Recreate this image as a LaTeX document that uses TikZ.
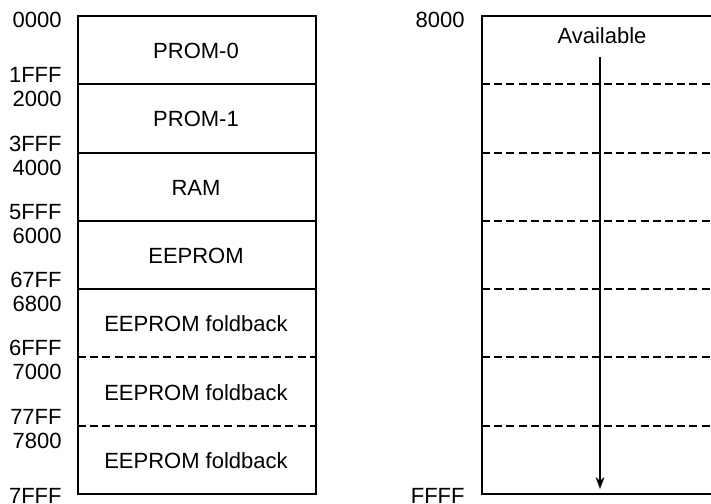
\documentclass[tikz,border=0pt]{standalone}
\usepackage{fontspec}
\setmainfont{Liberation Sans}
\usetikzlibrary{arrows.meta}
\begin{document}
\begin{tikzpicture}[>={Stealth[length=6pt,width=4.4pt]}, x=0.5pt, y=-0.5pt,
  addr/.style={anchor=east, inner sep=0pt},
  sect/.style={inner sep=0pt},
  edge/.style={line width=1pt},
  fold/.style={line width=1pt, dash pattern=on 4pt off 2.1pt}]
 \useasboundingbox (0,0) rectangle (711,503);
 \fontsize{11}{13}\selectfont
 % left map
 \draw[edge] (78,16) rectangle (316,494);
 \foreach \y in {84.3,152.6,220.9,289.1}
  \draw[edge] (78,\y) -- (316,\y);
 \foreach \y in {357.4,425.7}
  \draw[fold] (78,\y) -- (316,\y);
 \foreach \y/\name/\txt in {51/prom0/PROM-0, 119/prom1/PROM-1, 187.5/ram/RAM,
   256/eeprom/EEPROM, 324/foldA/EEPROM foldback, 392.5/foldB/EEPROM foldback,
   461/foldC/EEPROM foldback}
  \node[sect] (\name) at (196,\y) {\txt};
 \node[addr] (a0000) at (62,20) {0000};
 \foreach \y/\ea/\sa [count=\i] in {84.3/1FFF/2000, 152.6/3FFF/4000, 220.9/5FFF/6000,
   289.1/67FF/6800, 357.4/6FFF/7000, 425.7/77FF/7800} {
  \node[addr] (end\i) at (62,\y-9) {\ea};
  \node[addr] (start\i) at (62,\y+15) {\sa};
 }
 \node[addr] (a7FFF) at (62,496) {7FFF};
 % right map
 \draw[edge] (711,16) -- (482,16) -- (482,494) -- (711,494);
 \foreach \y in {84.3,152.6,220.9,289.1,357.4,425.7}
  \draw[fold] (482,\y) -- (711,\y);
 \node[addr] (a8000) at (465,20) {8000};
 \node[addr] (aFFFF) at (465,496) {FFFF};
 \node[sect] (avail) at (602,36) {Available};
 \coordinate (top) at (600,57);
 \coordinate (bottom) at (600,489);
 \draw[->, line width=0.8pt] (top) -- (bottom);
\end{tikzpicture}
\end{document}
